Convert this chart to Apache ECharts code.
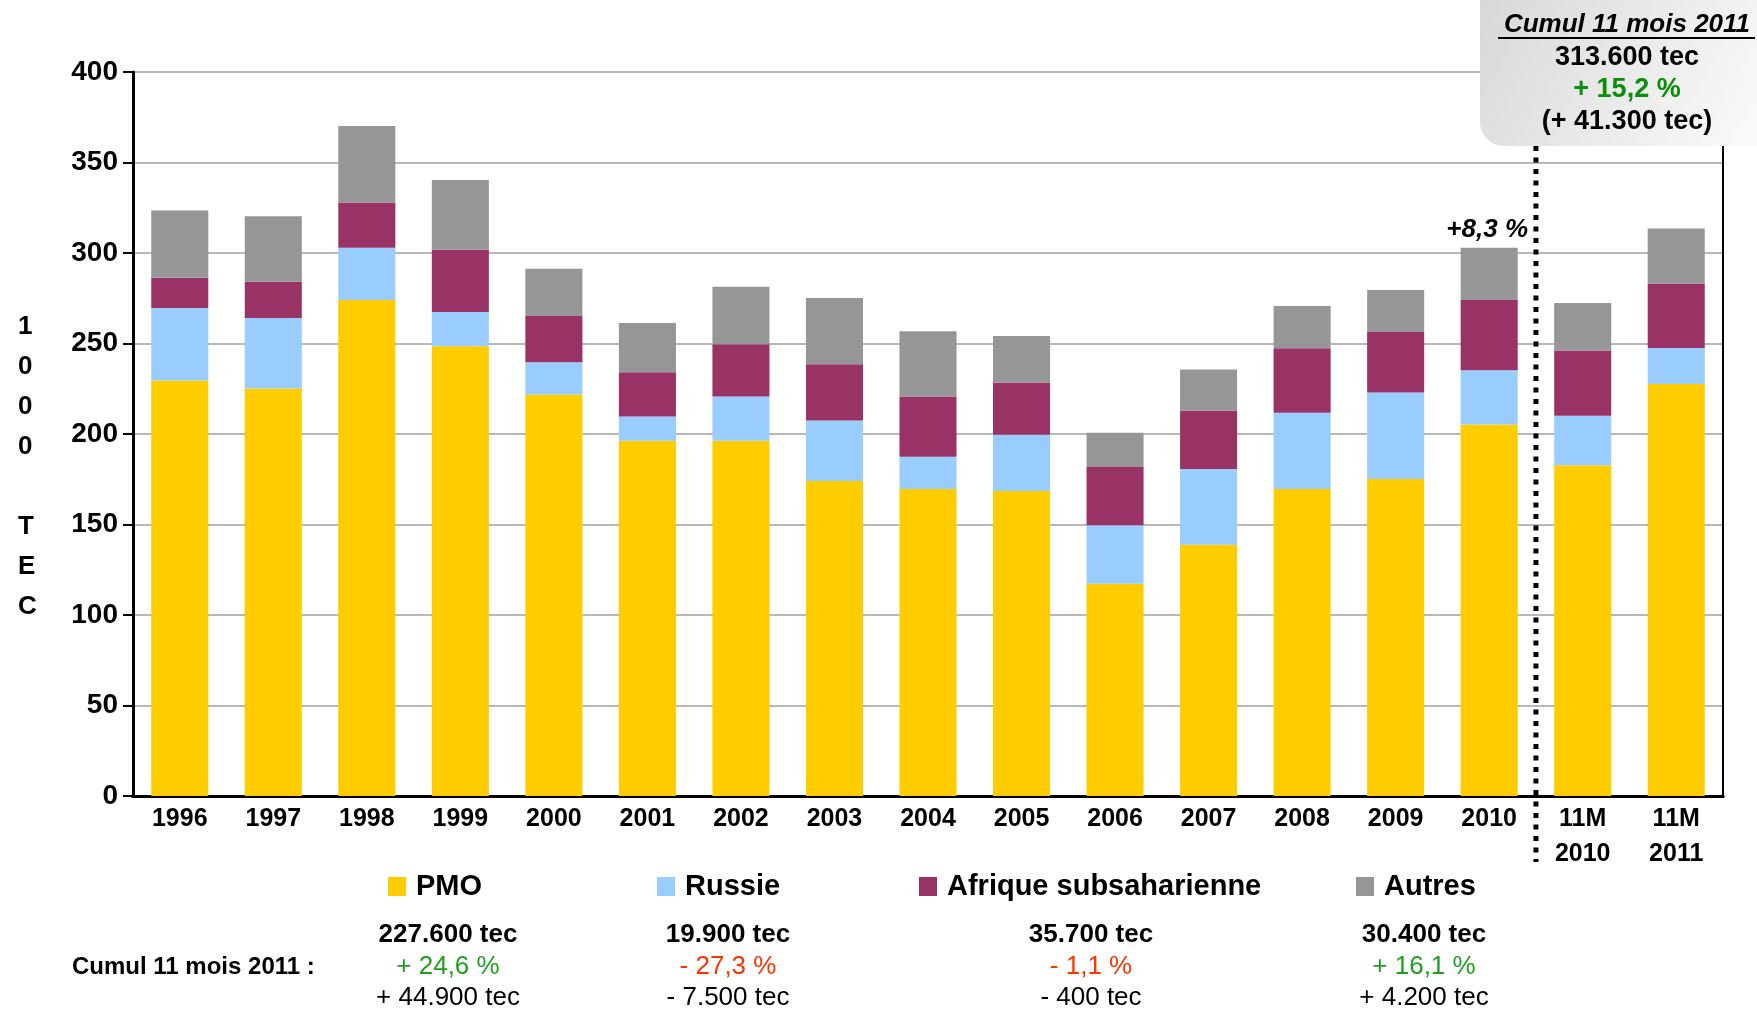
<!DOCTYPE html>
<html>
<head>
<meta charset="utf-8">
<script src="https://cdn.jsdelivr.net/npm/echarts@6/dist/echarts.min.js"></script>
<style>
  html, body { margin: 0; padding: 0; background: #fff; }
  #chart { width: 1757px; height: 1011px; }
</style>
</head>
<body>
<div id="chart"></div>
<script>
// data (x 1000 tec)
const categories = ['1996', '1997', '1998', '1999', '2000', '2001', '2002', '2003', '2004', '2005',
  '2006', '2007', '2008', '2009', '2010', '11M\n2010', '11M\n2011']
const pmo = [229.6, 225.2, 274.1, 248.5, 221.8, 196.3, 196.3, 174.1, 169.6, 168.5,
  117.2, 138.8, 169.6, 175.2, 205.2, 182.7, 227.6]
const russie = [40.0, 38.9, 28.8, 18.9, 17.8, 13.3, 24.4, 33.3, 17.8, 31.1,
  32.4, 41.9, 42.2, 47.7, 30.0, 27.4, 19.9]
const afrique = [16.7, 20.0, 25.0, 34.4, 25.6, 24.5, 28.9, 31.1, 33.3, 28.9,
  32.2, 32.2, 35.6, 33.4, 38.9, 36.1, 35.7]
const autres = [37.2, 36.2, 42.3, 38.6, 26.1, 27.2, 31.7, 36.7, 36.1, 25.6,
  18.9, 22.8, 23.3, 23.3, 28.8, 26.2, 30.4]
const yTicks = [0, 50, 100, 150, 200, 250, 300, 350, 400]

const seriesNames = ['PMO', 'Russie', 'Afrique subsaharienne', 'Autres']
const seriesColors = ['#ffcc00', '#99ccff', '#993366', '#969696']

// summary under the legend
const cumulTec = ['227.600 tec', '19.900 tec', '35.700 tec', '30.400 tec']
const cumulPct = ['+ 24,6 %', '- 27,3 %', '- 1,1 %', '+ 16,1 %']
const cumulDiff = ['+ 44.900 tec', '- 7.500 tec', '- 400 tec', '+ 4.200 tec']
const boxLines = ['Cumul 11 mois 2011', '313.600 tec', '+ 15,2 %', '(+ 41.300 tec)']
const growth2010 = '+8,3 %'

const FONT = '"Liberation Sans", Arial, sans-serif'
const GREEN = '#1f9e1f'
const RED = '#ff3300'

const legendLeft = [388, 657, 919, 1356]
const colCenter = [448, 728, 1091, 1424]

const chart = echarts.init(document.getElementById('chart'), null, { renderer: 'canvas' })

const option = {
  animation: false,
  backgroundColor: '#fff',
  textStyle: { fontFamily: FONT },
  grid: { left: 133, right: 34, top: 72, bottom: 215 },
  legend: seriesNames.map((name, i) => ({
    data: [name],
    left: legendLeft[i],
    top: 872,
    padding: 0,
    icon: 'rect',
    itemWidth: 18,
    itemHeight: 19,
    selectedMode: false,
    textStyle: { fontFamily: FONT, fontSize: 29, fontWeight: 'bold', color: '#000', padding: [0, 0, 0, 5] }
  })),
  xAxis: [
    {
      type: 'category',
      data: categories,
      axisLine: { lineStyle: { color: '#000', width: 3 } },
      axisTick: { show: false },
      axisLabel: { color: '#000', fontSize: 25, fontWeight: 'bold', fontFamily: FONT, lineHeight: 35, margin: 6, interval: 0 }
    },
    {
      type: 'category',
      position: 'top',
      data: categories,
      axisLine: { lineStyle: { color: '#000', width: 3 } },
      axisTick: { show: false },
      axisLabel: { show: false }
    }
  ],
  yAxis: [
    {
      type: 'value',
      min: yTicks[0],
      max: yTicks[yTicks.length - 1],
      interval: 50,
      axisLine: { show: true, lineStyle: { color: '#000', width: 3 } },
      axisTick: { show: true, length: 10, lineStyle: { color: '#000', width: 2 } },
      axisLabel: { color: '#000', fontSize: 28, fontWeight: 'bold', fontFamily: FONT, margin: 15 },
      splitLine: { lineStyle: { color: '#a0a0a0', width: 1.5 } }
    },
    {
      type: 'value',
      position: 'right',
      min: 0,
      max: 400,
      interval: 50,
      axisLine: { show: true, lineStyle: { color: '#000', width: 2 } },
      axisTick: { show: false },
      axisLabel: { show: false },
      splitLine: { show: false }
    }
  ],
  series: [pmo, russie, afrique, autres].map((data, i) => ({
    name: seriesNames[i],
    type: 'bar',
    stack: 'total',
    barCategoryGap: '39%',
    itemStyle: { color: seriesColors[i] },
    data
  }))
}

chart.setOption(option)

// annotations placed from the axes
const x2010 = chart.convertToPixel({ xAxisIndex: 0 }, categories[14])
const x11m = chart.convertToPixel({ xAxisIndex: 0 }, categories[15])
const sepX = (x2010 + x11m) / 2
const top2010 = chart.convertToPixel({ yAxisIndex: 0 }, pmo[14] + russie[14] + afrique[14] + autres[14])

const graphic = [
  {
    type: 'text',
    left: 18,
    top: 307,
    style: { text: '1\n0\n0\n0\n\nT\nE\nC', font: `bold 26px ${FONT}`, fill: '#000', lineHeight: 40, align: 'center' }
  },
  {
    type: 'line',
    z: 50,
    shape: { x1: sepX, y1: 146, x2: sepX, y2: 862 },
    style: { stroke: '#000', lineWidth: 5, lineDash: [5, 6.5] }
  },
  {
    type: 'text',
    z: 50,
    x: x2010 - 2,
    y: top2010 - 18,
    style: { text: growth2010, font: `italic bold 26px ${FONT}`, fill: '#000', align: 'center', verticalAlign: 'middle' }
  },
  {
    type: 'rect',
    z: 60,
    shape: { x: 1480, y: -30, width: 320, height: 176, r: 24 },
    style: {
      fill: new echarts.graphic.LinearGradient(0, 0, 1, 1, [
        { offset: 0, color: '#d6d6d6' },
        { offset: 1, color: '#ffffff' }
      ])
    }
  },
  {
    type: 'text', z: 61, x: 1627, y: 25,
    style: { text: boxLines[0], font: `italic bold 26px ${FONT}`, fill: '#000', align: 'center', verticalAlign: 'middle' }
  },
  {
    type: 'line', z: 61,
    shape: { x1: 1498, y1: 38, x2: 1755, y2: 38 },
    style: { stroke: '#000', lineWidth: 2 }
  },
  {
    type: 'text', z: 61, x: 1627, y: 58,
    style: { text: boxLines[1], font: `bold 27px ${FONT}`, fill: '#000', align: 'center', verticalAlign: 'middle' }
  },
  {
    type: 'text', z: 61, x: 1627, y: 90,
    style: { text: boxLines[2], font: `bold 27px ${FONT}`, fill: '#0a8f0a', align: 'center', verticalAlign: 'middle' }
  },
  {
    type: 'text', z: 61, x: 1627, y: 122,
    style: { text: boxLines[3], font: `bold 27px ${FONT}`, fill: '#000', align: 'center', verticalAlign: 'middle' }
  },
  {
    type: 'text', x: 72, y: 967,
    style: { text: 'Cumul 11 mois 2011 :', font: `bold 24px ${FONT}`, fill: '#000', verticalAlign: 'middle' }
  }
]

colCenter.forEach((cx, i) => {
  const pctColor = cumulPct[i].startsWith('+') ? GREEN : RED
  graphic.push(
    { type: 'text', x: cx, y: 935, style: { text: cumulTec[i], font: `bold 26px ${FONT}`, fill: '#000', align: 'center', verticalAlign: 'middle' } },
    { type: 'text', x: cx, y: 967, style: { text: cumulPct[i], font: `26px ${FONT}`, fill: pctColor, align: 'center', verticalAlign: 'middle' } },
    { type: 'text', x: cx, y: 998, style: { text: cumulDiff[i], font: `26px ${FONT}`, fill: '#000', align: 'center', verticalAlign: 'middle' } }
  )
})

chart.setOption({ graphic })
</script>
</body>
</html>
